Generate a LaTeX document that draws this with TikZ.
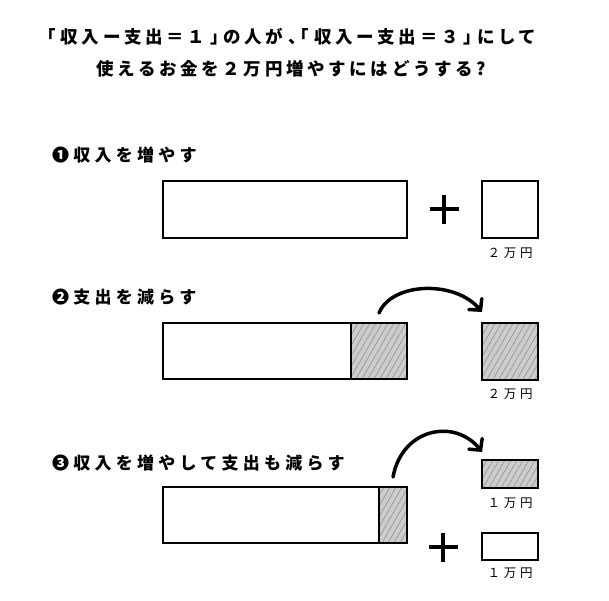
\documentclass[tikz,border=0pt]{standalone}
\usepackage{fontspec}
\usetikzlibrary{arrows.meta}
\newfontfamily\jptitle[LetterSpace=21]{Noto Sans CJK JP}
\newfontfamily\jphalt[LetterSpace=21,RawFeature=+halt]{Noto Sans CJK JP}
\newfontfamily\jplab[LetterSpace=25]{Noto Sans CJK JP}
\newfontfamily\jpsmall[LetterSpace=30]{Noto Sans CJK JP}
\newcommand{\hw}[1]{{\jphalt\bfseries #1}}
\newcommand{\gapk}{\kern4.8pt}
\definecolor{hatchfill}{HTML}{CCCCCC}
\definecolor{hatchline}{HTML}{8A8A8A}
\tikzset{
  box/.style={draw, line width=1.4pt, fill=white, inner sep=0pt, outer sep=0pt},
  hatchbox/.style={box, fill=hatchfill, path picture={
    \foreach \k in {-16,...,16}{
      \draw[hatchline, line width=0.5pt]
        ([xshift=\k*6pt, yshift=-40pt]path picture bounding box.center) -- ++(46pt,80pt);
    }}},
  titletext/.style={font=\jptitle\bfseries\fontsize{17.5}{20}\selectfont, inner sep=0pt, anchor=west},
  sectext/.style={font=\jplab\bfseries\fontsize{17}{20}\selectfont, inner sep=0pt, anchor=west},
  smalltext/.style={font=\jpsmall\fontsize{12.5}{15}\selectfont, inner sep=0pt},
  plusnode/.style={minimum size=29pt, inner sep=0pt, outer sep=0pt},
  plusline/.style={line width=4pt},
  arr/.style={line width=3.5pt, line cap=round, -{Straight Barb[length=8pt,width=17pt,line cap=round]}},
}
\begin{document}
\begin{tikzpicture}[x=1pt,y=1pt]
\useasboundingbox (0,0) rectangle (609,600);
\fill[white] (0,0) rectangle (609,600);
% title
\node[titletext] (t1) at (47,563) {\hw{「}\gapk 収入ー支出＝１\gapk\hw{」}\gapk の人が\gapk\hw{、「}\gapk 収入ー支出＝３\gapk\hw{」}\gapk にして};
\node[titletext] (t2) at (96,531) {使えるお金を２万円増やすにはどうする?};
% section 1
\node[sectext] (s1lab) at (52,445) {❶収入を増やす};
\node[box, minimum width=244pt, minimum height=57pt] (b1) at (285,390.5) {};
\node[plusnode] (p1) at (444,390.5) {};
\draw[plusline] (p1.north) -- (p1.south) (p1.west) -- (p1.east);
\node[box, minimum width=56pt, minimum height=57pt] (s1) at (510,390.5) {};
\node[smalltext] (l1) at (510,347) {２万円};
% section 2
\node[sectext] (s2lab) at (52,303) {❷支出を減らす};
\node[box, minimum width=188pt, minimum height=56pt] (b2) at (257,249) {};
\node[hatchbox, minimum width=56pt, minimum height=56pt] (h2) at (379,249) {};
\node[hatchbox, minimum width=56pt, minimum height=57pt] (s2) at (510,248.5) {};
\node[smalltext] (l2) at (510,206) {２万円};
\coordinate (a2s) at ([yshift=10pt]h2.north);
\coordinate (a2e) at ([yshift=11pt]s2.north west);
\draw[arr] (a2s) .. controls (392,318) and (455,320) .. (a2e);
% section 3
\node[sectext] (s3lab) at (52,137) {❸収入を増やして支出も減らす};
\node[box, minimum width=216pt, minimum height=56pt] (b3) at (271,85) {};
\node[hatchbox, minimum width=28pt, minimum height=56pt] (h3) at (393,85) {};
\node[hatchbox, minimum width=56pt, minimum height=28pt] (s3) at (510,126) {};
\node[smalltext] (l3) at (510,97) {１万円};
\node[plusnode] (p3) at (443,53) {};
\draw[plusline] (p3.north) -- (p3.south) (p3.west) -- (p3.east);
\node[box, minimum width=56pt, minimum height=27pt] (w3) at (510,53.5) {};
\node[smalltext] (l4) at (510,27) {１万円};
\coordinate (a3s) at ([yshift=10pt]h3.north);
\coordinate (a3e) at ([yshift=8pt]s3.north west);
\draw[arr] (a3s) .. controls (402,172) and (455,182) .. (a3e);
\end{tikzpicture}
\end{document}
